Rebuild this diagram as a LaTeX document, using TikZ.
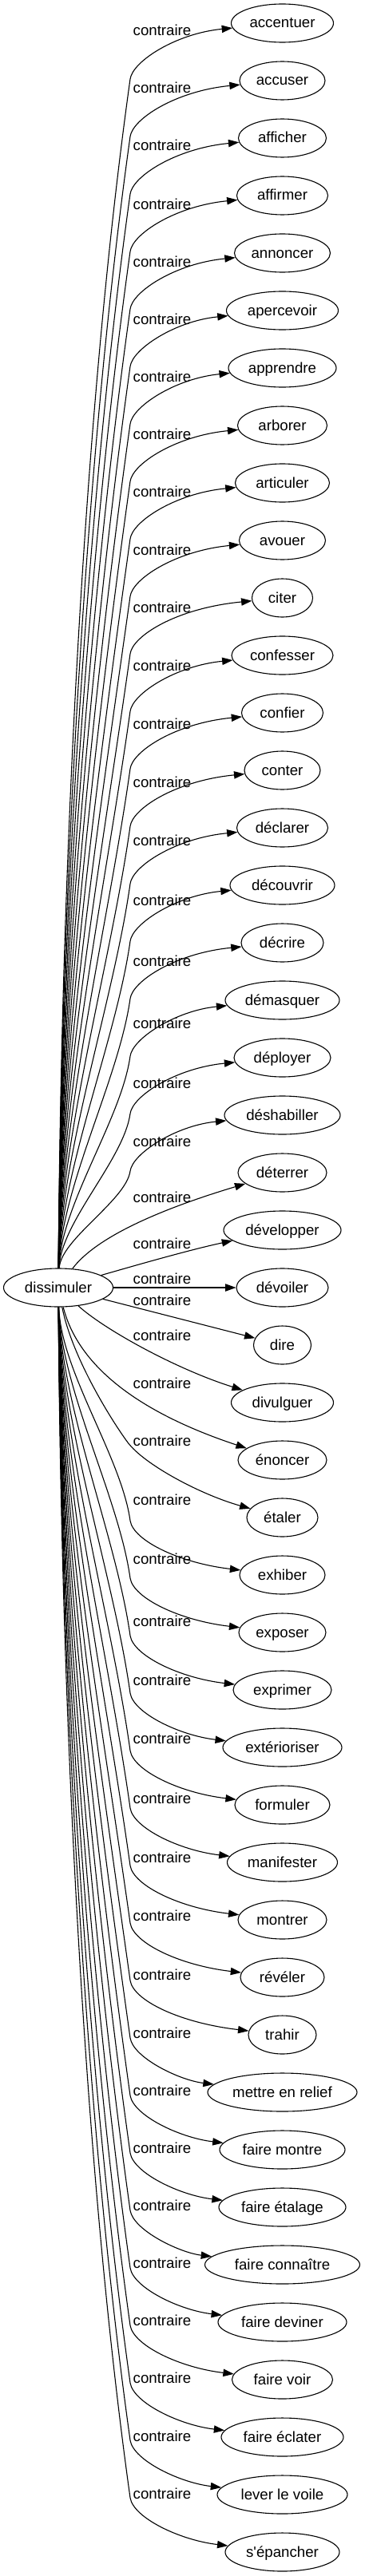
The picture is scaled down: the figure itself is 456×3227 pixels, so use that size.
\documentclass[tikz,border=0pt]{standalone}
\usepackage{fontspec}
\newfontfamily\lsans{Liberation Sans}
\usetikzlibrary{arrows.meta,shapes.geometric}
\begin{document}
\begin{tikzpicture}[x=1pt,y=-1pt,
  every node/.style={font=\lsans\fontsize{18.67}{22}\selectfont},
  term/.style={ellipse, draw, line width=1.1pt, minimum height=48pt,
    inner xsep=2pt, inner ysep=2pt, text height=12pt, text depth=0pt},
  lab/.style={inner sep=0pt, anchor=base},
  rel/.style={line width=1.1pt, -{Triangle[length=13.3pt,width=9.3pt]}}]
\useasboundingbox (0,0) rectangle (456,3227);
\node[term, minimum width=137pt] (dis) at (73,1613) {dissimuler};
\foreach \nm/\ew [count=\i from 0] in {accentuer/128, accuser/107, afficher/110, affirmer/114, annoncer/120, apercevoir/140, apprendre/135, arborer/112, articuler/118, avouer/108, citer/76, confesser/127, confier/102, conter/95, déclarer/114, découvrir/131, décrire/103, démasquer/143, déployer/121, déshabiller/145, déterrer/111, développer/147, dévoiler/115, dire/72, divulguer/128, énoncer/111, étaler/89, exhiber/107, exposer/109, exprimer/123, extérioriser/149, formuler/119, manifester/138, montrer/111, révéler/105, trahir/85, mettre en relief/187, faire montre/157, faire étalage/159, faire connaître/194, faire deviner/161, faire voir/126, faire éclater/153, lever le voile/163, s'épancher/143}
  {\node[term, minimum width=\ew pt] (t\i) at (353.5,{29+72*\i}) {\nm};}
\foreach \L [count=\i from 0] in {39,111,183,256,328,400,472,544,616,689,761,834,907,980,1053,1128,1204,1282,1357,1430,1500,1558,1602,1629,1673,1733,1805,1879,1953,2031,2105,2178,2253,2327,2400,2474,2547,2619,2691,2763,2835,2907,2979,3052,3124}
  {\node[lab] (l\i) at (203,\L+6) {contraire};}
% upper fan
\foreach \i in {0,...,19} {
  \pgfmathsetmacro\T{29+72*\i}
  \pgfmathsetmacro\By{\T+70}
  \pgfmathsetmacro\m{0.3*(1589-\By)}
  \pgfmathsetmacro\Cay{1589-\m}
  \pgfmathsetmacro\Cbx{163-0.14*\m}
  \pgfmathsetmacro\Cby{\By+\m}
  \pgfmathsetmacro\Ccy{\By-22}
  \pgfmathsetmacro\Cdy{\T+13}
  \coordinate (b\i) at (163,\By);
  \draw[rel] (dis) .. controls (76,\Cay) and (\Cbx,\Cby) .. (b\i) .. controls (166,\Ccy) and (220,\Cdy) .. (t\i);
}
% lower fan
\foreach \i in {27,...,44} {
  \pgfmathsetmacro\T{29+72*\i}
  \pgfmathsetmacro\By{\T-68}
  \pgfmathsetmacro\m{0.3*(\By-1637)}
  \pgfmathsetmacro\Cay{1637+\m}
  \pgfmathsetmacro\Cbx{163-0.14*\m}
  \pgfmathsetmacro\Cby{\By-\m}
  \pgfmathsetmacro\Ccy{\By+25}
  \pgfmathsetmacro\Cdy{\T-15}
  \coordinate (b\i) at (163,\By);
  \draw[rel] (dis) .. controls (76,\Cay) and (\Cbx,\Cby) .. (b\i) .. controls (167,\Ccy) and (225,\Cdy) .. (t\i);
}
% middle edges
\draw[rel] (dis) .. controls (120,1550) and (200,1515) .. (t20);
\draw[rel] (dis) .. controls (170,1585) and (240,1565) .. (t21);
\draw[rel] (dis) -- (t22);
\draw[rel] (dis) -- (t23);
\draw[rel] (dis) .. controls (130,1665) and (220,1715) .. (t24);
\draw[rel] (dis) .. controls (100,1720) and (190,1775) .. (t25);
\coordinate (b26) at (160,1807);
\draw[rel] (dis) .. controls (90,1700) and (140,1780) .. (b26) .. controls (180,1834) and (250,1872) .. (t26);
\end{tikzpicture}
\end{document}
